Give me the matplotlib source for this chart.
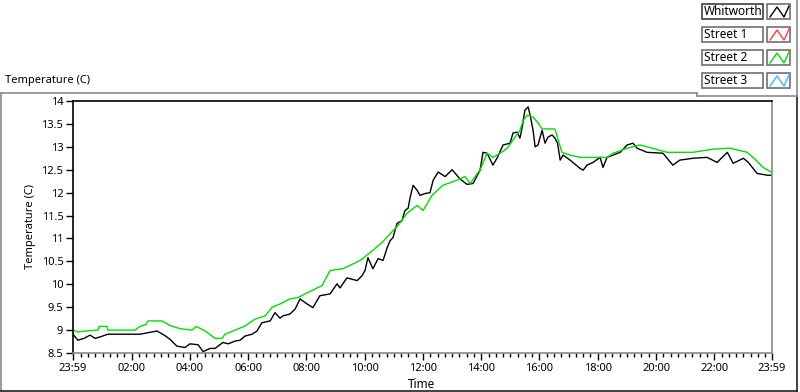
import matplotlib
matplotlib.use('Agg')
import matplotlib.pyplot as plt
from matplotlib.lines import Line2D
from matplotlib.patches import Rectangle

plt.rcParams['font.family'] = ['Noto Sans', 'DejaVu Sans']
plt.rcParams['font.size'] = 8

# hours since midnight (23:59 of the previous day = -1/60)
whit_t = [-0.017, 0.15, 0.36, 0.57, 0.74, 0.91, 1.18, 2.28, 2.87, 3.14, 3.31, 3.55, 3.83, 4.0,
          4.28, 4.45, 4.69, 4.86, 5.13, 5.31, 5.55, 5.72, 5.89, 6.13, 6.3, 6.47, 6.75, 6.92,
          7.09, 7.19, 7.43, 7.61, 7.78, 7.95, 8.22, 8.46, 8.81, 9.05, 9.15, 9.39, 9.74, 9.91,
          10.01, 10.11, 10.28, 10.46, 10.63, 10.77, 10.87, 10.97, 11.11, 11.28, 11.38, 11.49,
          11.56, 11.66, 11.8, 11.9, 12.07, 12.24, 12.35, 12.52, 12.76, 13.0, 13.27, 13.51,
          13.72, 13.96, 14.06, 14.2, 14.4, 14.54, 14.75, 14.99, 15.09, 15.23, 15.33, 15.4,
          15.5, 15.61, 15.68, 15.78, 15.85, 15.95, 16.09, 16.19, 16.29, 16.43, 16.53, 16.62,
          16.71, 16.81, 17.05, 17.39, 17.5, 17.63, 17.84, 18.08, 18.18, 18.32, 18.53, 18.77,
          19.01, 19.21, 19.35, 19.69, 20.24, 20.58, 20.82, 21.27, 21.75, 22.1, 22.45, 22.65,
          23.0, 23.17, 23.47, 23.82, 23.98]
whit_v = [8.91, 8.78, 8.82, 8.89, 8.82, 8.85, 8.91, 8.91, 8.98, 8.88, 8.8, 8.65, 8.62, 8.7,
          8.68, 8.53, 8.6, 8.6, 8.73, 8.7, 8.76, 8.78, 8.87, 8.91, 8.98, 9.16, 9.2, 9.38,
          9.26, 9.31, 9.35, 9.46, 9.68, 9.6, 9.49, 9.75, 9.79, 10.01, 9.92, 10.14, 10.08, 10.19,
          10.3, 10.58, 10.34, 10.56, 10.52, 10.8, 10.95, 11.02, 11.33, 11.39, 11.61, 11.66,
          11.9, 12.16, 12.05, 11.94, 11.98, 12.0, 12.27, 12.45, 12.35, 12.5, 12.3, 12.18,
          12.2, 12.49, 12.88, 12.86, 12.6, 12.75, 13.04, 13.08, 13.3, 13.32, 13.19, 13.41,
          13.8, 13.87, 13.69, 13.36, 13.0, 13.04, 13.36, 13.08, 13.21, 13.26, 13.19, 13.08,
          12.71, 12.82, 12.71, 12.53, 12.49, 12.6, 12.66, 12.77, 12.55, 12.77, 12.82, 12.88,
          13.04, 13.08, 12.97, 12.88, 12.86, 12.6, 12.71, 12.75, 12.77, 12.66, 12.88, 12.64,
          12.75, 12.66, 12.42, 12.38, 12.38]

st2_t = [-0.017, 0.15, 0.4, 0.84, 0.88, 1.15, 1.18, 2.11, 2.28, 2.49, 2.56, 3.04, 3.31, 3.66,
         4.07, 4.21, 4.52, 4.69, 4.86, 5.1, 5.2, 5.55, 5.89, 6.23, 6.58, 6.82, 7.09, 7.43,
         7.71, 7.98, 8.53, 8.81, 9.25, 9.84, 10.18, 10.59, 10.97, 11.14, 11.45, 11.8, 12.0,
         12.31, 12.68, 13.16, 13.44, 13.62, 13.96, 14.2, 14.4, 14.65, 14.89, 15.09, 15.33,
         15.44, 15.58, 15.78, 15.95, 16.09, 16.53, 16.64, 16.77, 17.05, 17.39, 18.32, 18.53,
         19.01, 19.45, 19.69, 20.38, 21.27, 21.96, 22.54, 23.13, 23.33, 23.68, 23.98]
st2_v = [9.0, 8.96, 8.98, 9.0, 9.08, 9.08, 9.0, 9.0, 9.08, 9.12, 9.2, 9.2, 9.1, 9.03,
         9.0, 9.08, 8.98, 8.9, 8.82, 8.82, 8.91, 9.0, 9.09, 9.24, 9.31, 9.5, 9.57, 9.68,
         9.71, 9.8, 9.97, 10.3, 10.34, 10.52, 10.69, 10.91, 11.17, 11.28, 11.55, 11.72, 11.61,
         11.94, 12.16, 12.27, 12.35, 12.2, 12.5, 12.86, 12.77, 12.86, 12.97, 13.15, 13.36,
         13.58, 13.69, 13.65, 13.52, 13.39, 13.39, 13.15, 12.88, 12.82, 12.77, 12.77, 12.86,
         12.97, 13.04, 13.0, 12.88, 12.88, 12.95, 12.97, 12.88, 12.77, 12.55, 12.44]

legend_names = ["Whitworth", "Street 1", "Street 2", "Street 3"]
legend_colors = ["black", "#ff4040", "#00e000", "#3fb4ff"]

x_major = [-1/60, 2, 4, 6, 8, 10, 12, 14, 16, 18, 20, 22, 24 - 1/60]
x_labels = ["23:59", "02:00", "04:00", "06:00", "08:00", "10:00", "12:00",
            "14:00", "16:00", "18:00", "20:00", "22:00", "23:59"]
y_ticks = [8.5, 9, 9.5, 10, 10.5, 11, 11.5, 12, 12.5, 13, 13.5, 14]

W, H = 800, 392
def fx(px):
    return px / W
def fy(py):
    return 1 - py / H

fig = plt.figure(figsize=(8, 3.92), dpi=100)
ax = fig.add_axes([fx(73), fy(353), fx(772) - fx(73), fy(101) - fy(353)])

ax.plot(whit_t, whit_v, color=legend_colors[0], lw=1.0)
ax.plot(st2_t, st2_v, color=legend_colors[2], lw=1.0)

ax.set_xlim(-1/60, 24 - 1/60)
ax.set_ylim(8.5, 14)
ax.set_xticks(x_major)
ax.set_xticklabels(x_labels)
minors = [m / 4 for m in range(1, 96) if m % 8 != 0]
ax.set_xticks(minors, minor=True)
ax.set_yticks(y_ticks)
ax.set_yticklabels(["%g" % v for v in y_ticks])
ax.tick_params(axis='both', which='major', direction='out', length=5, width=1,
               color='black', labelsize=8, pad=2)
ax.tick_params(axis='x', which='minor', direction='out', length=3, width=1, color='black')

ax.spines['left'].set_color('black')
ax.spines['top'].set_color('black')
ax.spines['right'].set_color('#8a8a8a')
ax.spines['bottom'].set_color('#8a8a8a')
for s in ax.spines.values():
    s.set_linewidth(1.2)

fig.text(fx(30), fy(226), "Temperature (C)", rotation=90, ha='center', va='center', fontsize=8)
fig.text(fx(422), fy(384), "Time", ha='center', va='center', fontsize=8.5)
fig.text(fx(5), fy(81), "Temperature (C)", ha='left', va='center', fontsize=8)

# outer frame
def fline(x0, y0, x1, y1, c, lw=1.2):
    fig.add_artist(Line2D([fx(x0), fx(x1)], [fy(y0), fy(y1)], color=c, lw=lw,
                          transform=fig.transFigure))

fline(1, 92.5, 697, 92.5, '#8a8a8a')
fline(1, 92.5, 1, 391, '#8a8a8a')
fline(1, 390.5, 797, 390.5, '#202020')
fline(797, 96, 797, 391, '#202020')
fline(697, 92.5, 697, 96, '#8a8a8a')
fline(697, 96, 797, 96, '#8a8a8a')
fline(796.5, 0, 796.5, 96, '#8a8a8a')

# legend
for i, (name, col) in enumerate(zip(legend_names, legend_colors)):
    top = 4 + i * 23
    bot = top + 15
    edge = '#404040' if i == 0 else '#707070'
    fig.add_artist(Rectangle((fx(702), fy(bot)), fx(763) - fx(702), fy(top) - fy(bot),
                             transform=fig.transFigure, facecolor='white', edgecolor=edge, lw=1.2))
    fig.text(fx(704), fy((top + bot) / 2), name, ha='left', va='center', fontsize=8.5)
    fig.add_artist(Rectangle((fx(767), fy(bot)), fx(790) - fx(767), fy(top) - fy(bot),
                             transform=fig.transFigure, facecolor='white', edgecolor='#707070', lw=1.2))
    fig.add_artist(Line2D([fx(770), fx(777), fx(784), fx(789)],
                          [fy(bot - 2), fy(top + 3), fy(bot - 2), fy(top + 2)],
                          color=col, lw=1.0, transform=fig.transFigure))

fig.savefig("out.png", dpi=100)
